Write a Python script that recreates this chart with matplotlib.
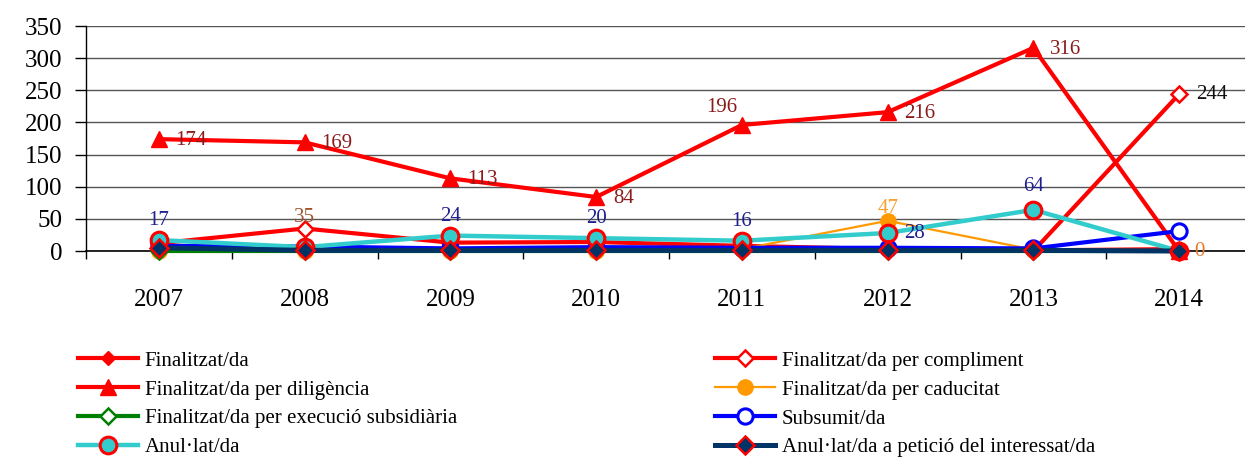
import matplotlib
matplotlib.use("Agg")
import matplotlib.pyplot as plt

plt.rcParams['font.family'] = ['Liberation Serif', 'DejaVu Serif']

years = ['2007', '2008', '2009', '2010', '2011', '2012', '2013', '2014']

finalitzat = [2, 1, 1, 1, 1, 1, 1, 3]
compliment = [12, 35, 13, 14, 8, 3, 0, 244]
diligencia = [174, 169, 113, 84, 196, 216, 316, 0]
caducitat = [0, 0, 0, 0, 3, 47, 2, 0]
execucio = [0, 0, 0, 0, 0, 0, 0, 0]
subsumit = [8, 7, 4, 6, 5, 5, 4, 31]
anullat = [17, 6, 24, 20, 16, 28, 64, 0]
peticio = [5, 1, 1, 1, 1, 1, 1, 0]

names = ['Finalitzat/da', 'Finalitzat/da per compliment',
         'Finalitzat/da per diligència', 'Finalitzat/da per caducitat',
         'Finalitzat/da per execució subsidiària', 'Subsumit/da',
         'Anul·lat/da', 'Anul·lat/da a petició del interessat/da']

# which points get a value label
shown_diligencia = [0, 1, 2, 3, 4, 5, 6]
shown_compliment = [1, 7]
shown_caducitat = [5, 7]
shown_anullat = [0, 2, 3, 4, 5, 6]

x = list(range(len(years)))

fig = plt.figure(figsize=(12.45, 4.59), dpi=100)
ax = fig.add_axes([86 / 1245, 1 - 251 / 459, 1166 / 1245, 225 / 459])

styles = [
    dict(color='#FF0000', lw=3, marker='D', ms=7, mfc='#FF0000', mec='#FF0000'),
    dict(color='#FF0000', lw=3, marker='D', ms=8, mfc='white', mec='#FF0000', mew=1.8),
    dict(color='#FF0000', lw=3, marker='^', ms=11, mfc='#FF0000', mec='#FF0000'),
    dict(color='#FF9900', lw=1.6, marker='o', ms=11, mfc='#FF9900', mec='#FF9900'),
    dict(color='#008000', lw=3, marker='D', ms=8, mfc='white', mec='#008000', mew=1.8),
    dict(color='#0000FF', lw=3, marker='o', ms=11, mfc='white', mec='#0000FF', mew=2.2),
    dict(color='#33CCCC', lw=3.2, marker='o', ms=12, mfc='#33CCCC', mec='#FF0000', mew=2.2),
    dict(color='#003366', lw=3.6, marker='D', ms=9, mfc='#003366', mec='#FF0000', mew=1.8),
]
series = [finalitzat, compliment, diligencia, caducitat, execucio, subsumit, anullat, peticio]

handles = []
for i, (vals, st) in enumerate(zip(series, styles)):
    line, = ax.plot(x, vals, label=names[i], zorder=3 + i, clip_on=False, **st)
    handles.append(line)

# value labels
lbl = dict(fontsize=15, zorder=20)
for i in shown_diligencia:
    if i == 4:
        ax.annotate(str(diligencia[i]), (x[i], diligencia[i]), xytext=(-3, 6),
                    textcoords='offset points', ha='right', va='bottom', color='#8B1A1A', **lbl)
    else:
        ax.annotate(str(diligencia[i]), (x[i], diligencia[i]), xytext=(12, -1),
                    textcoords='offset points', ha='left', va='center', color='#8B1A1A', **lbl)
for i in shown_compliment:
    if i == 7:
        ax.annotate(str(compliment[i]), (x[i], compliment[i]), xytext=(12, 0),
                    textcoords='offset points', ha='left', va='center', color='#111111', **lbl)
    else:
        ax.annotate(str(compliment[i]), (x[i], compliment[i]), xytext=(0, 1),
                    textcoords='offset points', ha='center', va='bottom', color='#A0522D', **lbl)
for i in shown_caducitat:
    if i == 7:
        ax.annotate(str(caducitat[i]), (x[i], caducitat[i]), xytext=(11, 0),
                    textcoords='offset points', ha='left', va='center', color='#E8782A', **lbl)
    else:
        ax.annotate(str(caducitat[i]), (x[i], caducitat[i]), xytext=(0, 2),
                    textcoords='offset points', ha='center', va='bottom', color='#F7A030', **lbl)
for i in shown_anullat:
    if i == 5:
        ax.annotate(str(anullat[i]), (x[i], anullat[i]), xytext=(12, 0),
                    textcoords='offset points', ha='left', va='center', color='#1F1F8F', **lbl)
    else:
        off = 10 if i == 6 else 7
        ax.annotate(str(anullat[i]), (x[i], anullat[i]), xytext=(0, off),
                    textcoords='offset points', ha='center', va='bottom', color='#1F1F8F', **lbl)

ax.set_xlim(-0.5, 7.5)
ax.set_ylim(0, 350)
ax.set_yticks(range(0, 351, 50))
ax.set_xticks(x)
ax.set_xticklabels(years)
ax.set_xticks([v - 0.5 for v in range(len(years) + 1)], minor=True)
ax.tick_params(axis='x', which='major', length=0, pad=27, labelsize=18)
ax.tick_params(axis='x', which='minor', length=6, width=1, direction='out')
ax.tick_params(axis='y', length=8, width=1, direction='out', labelsize=18, pad=9)
ax.grid(axis='y', color='#555555', lw=1)
ax.set_axisbelow(True)
for s in ['top', 'right']:
    ax.spines[s].set_visible(False)
ax.spines['left'].set_linewidth(1)
ax.spines['bottom'].set_linewidth(1.2)

# legend in two columns, row-major order like the original
leg_kw = dict(frameon=False, fontsize=15, handlelength=2.9, handletextpad=0.3,
              labelspacing=0.45, borderaxespad=0, borderpad=0)
leg1 = fig.legend(handles[0::2], names[0::2], loc='upper left',
                  bbox_to_anchor=(78 / 1245, 1 - 351 / 459), **leg_kw)
leg2 = fig.legend(handles[1::2], names[1::2], loc='upper left',
                  bbox_to_anchor=(715 / 1245, 1 - 351 / 459), **leg_kw)

fig.savefig('out.png', dpi=100)
